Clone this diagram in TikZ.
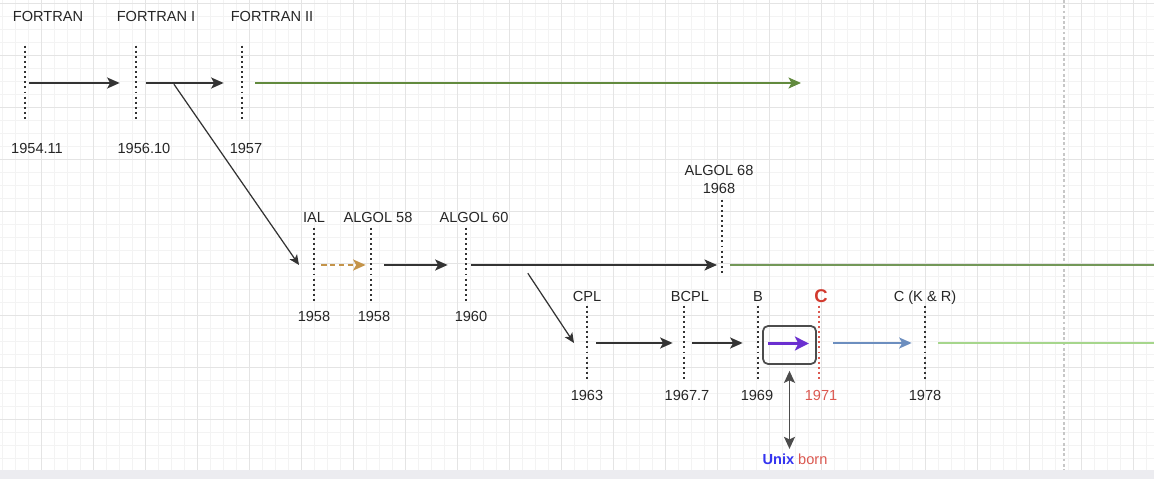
\documentclass[tikz,border=0pt]{standalone}
\usepackage{fontspec}
\setmainfont{Liberation Sans}
\usetikzlibrary{positioning,arrows.meta,calc}
\definecolor{gridmin}{HTML}{F3F3F3}
\definecolor{gridmaj}{HTML}{E4E4E4}
\definecolor{bandgray}{HTML}{ECECF0}
\definecolor{fgreen}{HTML}{628A3E}
\definecolor{agreen}{HTML}{739858}
\definecolor{cgreen}{HTML}{A6D68C}
\definecolor{ochre}{HTML}{C4944A}
\definecolor{cred}{HTML}{D23A2E}
\definecolor{yred}{HTML}{DB5850}
\definecolor{krblue}{HTML}{6C8EBF}
\definecolor{unixblue}{HTML}{3535F0}
\definecolor{bpurple}{HTML}{6B2FD0}

\begin{document}
\begin{tikzpicture}[x=0.2mm,y=-0.2mm,
  node distance=1mm,
  tk/.style={inner sep=0pt,minimum width=0pt,minimum height=14.8mm},
  tkl/.style={line width=0.8pt,dash pattern=on 1.1pt off 1.8pt,black!80},
  lab/.style={font=\fontsize{8.3}{10}\selectfont,text=black!85,inner sep=1pt,text depth=0pt},
  yr/.style={lab},
  ar/.style={-{Stealth[length=2.5mm,width=2.2mm,inset=0.6mm]},line width=1pt,black!80},
  dg/.style={-{Stealth[length=2mm,width=1.8mm,inset=0.5mm]},line width=0.7pt,black!80},
  gmin/.style={gridmin,line width=0.5pt},
  gmaj/.style={gridmaj,line width=0.5pt}]
\useasboundingbox (0,0) rectangle (1154,479);
% ---- background grid ----
\foreach \gx in {2,15,...,1154} \draw[gmin] (\gx,0) -- (\gx,470);
\foreach \gy in {3,16,...,470} \draw[gmin] (0,\gy) -- (1154,\gy);
\foreach \gx in {41,93,...,1154} \draw[gmaj] (\gx,0) -- (\gx,470);
\foreach \gy in {3,55,...,470} \draw[gmaj] (0,\gy) -- (1154,\gy);
\draw[black!22,line width=0.6pt,dash pattern=on 1.6pt off 1.4pt] (1064,0) -- (1064,470);
\fill[bandgray] (0,470) rectangle (1154,479);
% ---- FORTRAN ----
\node[tk] (fo) at (25,83) {};
\node[tk] (fi) at (136,83) {};
\node[tk] (fii) at (242,83) {};
\foreach \t in {fo,fi,fii} \draw[tkl] (\t.north) -- (\t.south);
\node[lab,above=4.4mm of fo,xshift=4.6mm] (fol) {FORTRAN};
\node[lab,above=4.4mm of fi,xshift=4mm] (fil) {FORTRAN I};
\node[lab,above=4.4mm of fii,xshift=6mm] (fiil) {FORTRAN II};
\node[yr,below=4.2mm of fo,xshift=2.4mm] (foy) {1954.11};
\node[yr,below=4.2mm of fi,xshift=1.6mm] (fiy) {1956.10};
\node[yr,below=4.2mm of fii,xshift=0.8mm] (fiiy) {1957};
\coordinate (fend) at (801,83);
\coordinate (fx) at ($(fi)!0.35!(fii)$);
\draw[ar,shorten <=0.8mm,shorten >=3.2mm] (fo) -- (fi);
\draw[ar,shorten <=2mm,shorten >=3.6mm] (fi) -- (fii);
\draw[ar,fgreen,shorten <=2.6mm] (fii) -- (fend);
% ---- ALGOL ----
\node[tk] (ial) at (314,265) {};
\node[tk] (a58) at (371,265) {};
\node[tk] (a60) at (466,265) {};
\node[tk] (a68) at (722,237) {};
\foreach \t in {ial,a58,a60,a68} \draw[tkl] (\t.north) -- (\t.south);
\node[lab,above=0.6mm of ial] (iall) {IAL};
\node[lab,above=0.6mm of a58,xshift=1.4mm] (a58l) {ALGOL 58};
\node[lab,above=0.6mm of a60,xshift=1.6mm] (a60l) {ALGOL 60};
\node[lab,above=0.8mm of a68,xshift=-0.6mm,align=center] (a68l) {ALGOL 68\\1968};
\node[yr,below=1.4mm of ial] (ialy) {1958};
\node[yr,below=1.4mm of a58,xshift=0.6mm] (a58y) {1958};
\node[yr,below=1.4mm of a60,xshift=1mm] (a60y) {1960};
\coordinate (aend) at (1154,265);
\coordinate (ax) at (527,272);
\draw[dg,shorten <=0.3mm] (fx) -- ([xshift=-3mm]ial.center);
\draw[ar,ochre,dash pattern=on 3pt off 2pt,shorten <=1.4mm,shorten >=1mm] (ial) -- (a58);
\draw[ar,shorten <=2.6mm,shorten >=3.6mm] (a58) -- (a60);
\draw[ar,shorten <=1mm,shorten >=1mm] (a60) -- (a60 -| a68);
\draw[agreen,line width=1pt,shorten <=1.6mm] (a60 -| a68) -- (aend);
% ---- BCPL, B, C ----
\node[tk] (cpl) at (587,343) {};
\node[tk] (bcpl) at (684,343) {};
\node[tk] (bb) at (758,343) {};
\node[tk] (cc) at (819,343) {};
\node[tk] (ckr) at (925,343) {};
\foreach \t in {cpl,bcpl,bb,ckr} \draw[tkl] (\t.north) -- (\t.south);
\draw[tkl,yred] (cc.north) -- (cc.south);
\node[lab,above=0.4mm of cpl] (cpll) {CPL};
\node[lab,above=0.4mm of bcpl,xshift=1.2mm] (bcpll) {BCPL};
\node[lab,above=0.4mm of bb] (bbl) {B};
\node[lab,above=0.2mm of cc,xshift=0.4mm,font=\fontsize{10.5}{12}\selectfont\bfseries,text=cred] (ccl) {C};
\node[lab,above=0.4mm of ckr] (ckrl) {C (K \& R)};
\node[yr,below=1.6mm of cpl] (cply) {1963};
\node[yr,below=1.6mm of bcpl,xshift=0.6mm] (bcply) {1967.7};
\node[yr,below=1.6mm of bb,xshift=-0.2mm] (bby) {1969};
\node[yr,below=1.6mm of cc,xshift=0.4mm,text=yred] (ccy) {1971};
\node[yr,below=1.6mm of ckr] (ckry) {1978};
\node[draw=black!70,line width=1pt,rounded corners=1mm,minimum width=10.6mm,minimum height=7.6mm] (box) at (789.5,345) {};
\node[lab,below=17.4mm of box,xshift=1.1mm] (unix) {\textcolor{unixblue}{\bfseries Unix} \textcolor{yred}{born}};
\coordinate (cend) at (1154,343);
\draw[dg,shorten <=0.3mm] (ax) -- ([xshift=-2.6mm]cpl.center);
\draw[ar,shorten <=1.8mm,shorten >=2.2mm] (cpl) -- (bcpl);
\draw[ar,shorten <=1.6mm,shorten >=3mm] (bcpl) -- (bb);
\draw[-{Stealth[length=2.8mm,width=2.8mm,inset=0.7mm]},bpurple,line width=1.3pt] ([xshift=1.2mm,yshift=0.3mm]box.west) -- ([xshift=-1.6mm,yshift=0.3mm]box.east);
\draw[ar,krblue,line width=0.9pt,shorten <=2.8mm,shorten >=2.6mm] (cc) -- (ckr);
\draw[cgreen,line width=1pt,shorten <=2.6mm] (ckr) -- (cend);
\draw[{Stealth[length=2.4mm,width=2.2mm,inset=0.5mm]}-{Stealth[length=2.4mm,width=2.2mm,inset=0.5mm]},line width=0.9pt,black!70,shorten <=1.2mm,shorten >=0.6mm] (box.south) -- (box.south |- unix.north);
\end{tikzpicture}
\end{document}
